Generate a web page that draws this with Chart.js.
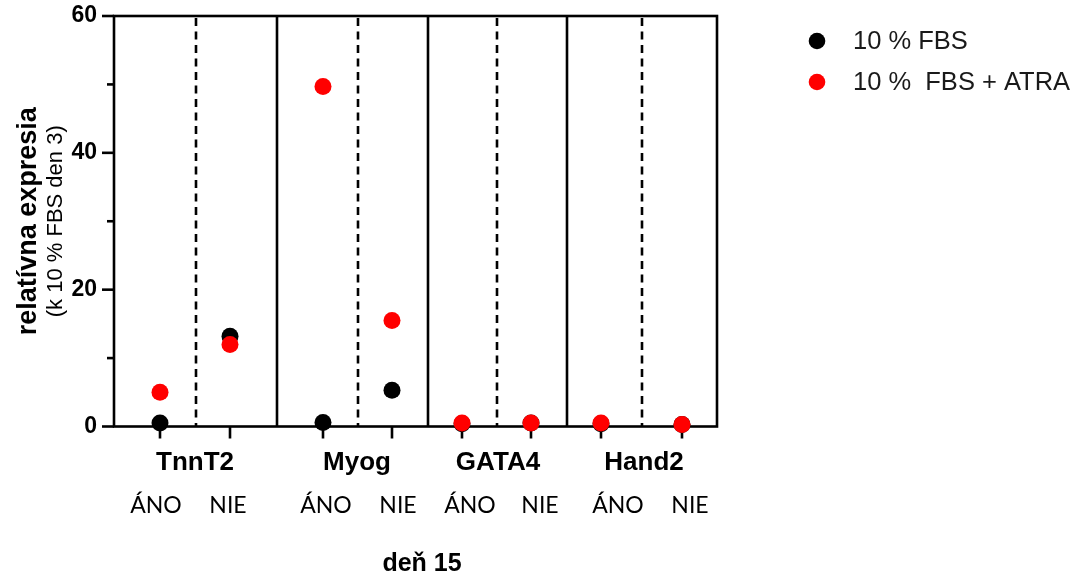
<!DOCTYPE html>
<html>
<head>
<meta charset="utf-8">
<script src="https://cdn.jsdelivr.net/npm/chart.js@4.4.1/dist/chart.umd.min.js"></script>
<style>
  html, body { margin: 0; padding: 0; background: #fff; }
  #wrap { width: 1081px; height: 584px; position: relative; }
</style>
</head>
<body>
<div id="wrap"><canvas id="c" width="1081" height="584"></canvas></div>
<script>
// ---- data ----
const genes = ['TnnT2', 'Myog', 'GATA4', 'Hand2'];
const groups = ['ÁNO', 'NIE', 'ÁNO', 'NIE', 'ÁNO', 'NIE', 'ÁNO', 'NIE'];
const fbs = [0.5, 13.2, 0.6, 5.3, 0.4, 0.5, 0.4, 0.3];
const fbsAtra = [5.0, 12.0, 49.7, 15.5, 0.5, 0.5, 0.5, 0.3];
const yTickValues = [0, 20, 40, 60];
const seriesNames = ['10 % FBS', '10 %  FBS + ATRA'];
const xTitle = 'deň 15';
const yTitle = 'relatívna expresia';
const ySubtitle = '(k 10 % FBS den 3)';

// ---- layout: positions on the linear x axis ----
const X_MAX = 60.3;
const pointX = [4.6, 11.6, 20.9, 27.8, 34.8, 41.7, 48.7, 56.8];
const groupLabelX = [4.2, 11.4, 21.2, 28.4, 35.6, 42.6, 50.4, 57.6];
const geneLabelX = [8.1, 24.3, 38.4, 53.0];
const panelDividerX = [16.3, 31.4, 45.3];
const groupDividerX = [8.2, 24.4, 38.3, 52.8];
const xTitleX = 30.8;

const SANS = "'Liberation Sans', Arial, sans-serif";
const LINE_W = 2.6;

const framePlugin = {
  id: 'frame',
  beforeDatasetsDraw(chart) {
    const { ctx, scales: { x, y } } = chart;
    const top = y.getPixelForValue(60), bot = y.getPixelForValue(0);
    const left = x.getPixelForValue(0), right = x.getPixelForValue(X_MAX);
    ctx.save();
    ctx.strokeStyle = '#000';
    ctx.lineWidth = LINE_W;
    ctx.lineCap = 'butt';
    // outer box
    ctx.strokeRect(left, top, right - left, bot - top);
    // y tick marks (major every 20, minor every 10)
    for (let v = 0; v <= 60; v += 10) {
      const py = y.getPixelForValue(v);
      const len = v % 20 === 0 ? 12 : 7;
      ctx.beginPath();
      ctx.moveTo(left - len, py);
      ctx.lineTo(left, py);
      ctx.stroke();
    }
    // x tick marks under each group
    pointX.forEach(v => {
      const px = x.getPixelForValue(v);
      ctx.beginPath();
      ctx.moveTo(px, bot);
      ctx.lineTo(px, bot + 12);
      ctx.stroke();
    });
    // solid panel dividers
    panelDividerX.forEach(v => {
      const px = x.getPixelForValue(v);
      ctx.beginPath();
      ctx.moveTo(px, top);
      ctx.lineTo(px, bot);
      ctx.stroke();
    });
    // dashed group dividers
    ctx.setLineDash([8, 5.5]);
    groupDividerX.forEach(v => {
      const px = x.getPixelForValue(v);
      ctx.beginPath();
      ctx.moveTo(px, top + 2);
      ctx.lineTo(px, bot);
      ctx.stroke();
    });
    ctx.restore();
  },
  afterDraw(chart) {
    const { ctx, scales: { x, y } } = chart;
    ctx.save();
    ctx.fillStyle = '#000';
    ctx.textAlign = 'center';
    ctx.textBaseline = 'middle';

    // gene names
    ctx.font = `bold 26px ${SANS}`;
    genes.forEach((g, i) => ctx.fillText(g, x.getPixelForValue(geneLabelX[i]), 463));

    // ÁNO / NIE
    ctx.font = `23px Lato, 'Open Sans', sans-serif`;
    groups.forEach((g, i) => ctx.fillText(g, x.getPixelForValue(groupLabelX[i]), 506));

    // x title
    ctx.font = `bold 25px ${SANS}`;
    ctx.fillText(xTitle, x.getPixelForValue(xTitleX), 564);

    // y titles
    const midY = (y.getPixelForValue(0) + y.getPixelForValue(60)) / 2;
    ctx.save();
    ctx.translate(29, midY);
    ctx.rotate(-Math.PI / 2);
    ctx.font = `bold 27px ${SANS}`;
    ctx.fillText(yTitle, 0, 0);
    ctx.restore();
    ctx.save();
    ctx.translate(56, midY);
    ctx.rotate(-Math.PI / 2);
    ctx.font = `22px ${SANS}`;
    ctx.fillText(ySubtitle, 0, 0);
    ctx.restore();

    // legend
    const colors = [chart.data.datasets[0].backgroundColor, chart.data.datasets[1].backgroundColor];
    const legendY = [41, 82];
    ctx.textAlign = 'left';
    ctx.font = `25.5px ${SANS}`;
    seriesNames.forEach((name, i) => {
      ctx.fillStyle = colors[i];
      ctx.beginPath();
      ctx.arc(817, legendY[i], 8.3, 0, Math.PI * 2);
      ctx.fill();
      ctx.fillStyle = '#1a1a1a';
      ctx.fillText(name, 853, legendY[i] + 1);
    });
    ctx.restore();
  }
};

const toPoints = vals => vals.map((v, i) => ({ x: pointX[i], y: v }));

new Chart(document.getElementById('c'), {
  type: 'scatter',
  data: {
    datasets: [
      {
        label: seriesNames[0],
        data: toPoints(fbs),
        backgroundColor: '#000000',
        borderColor: '#000000',
        borderWidth: 0,
        pointRadius: 8.5,
        pointHoverRadius: 8.5,
        clip: false,
        order: 2
      },
      {
        label: seriesNames[1],
        data: toPoints(fbsAtra),
        backgroundColor: '#ff0000',
        borderColor: '#ff0000',
        borderWidth: 0,
        pointRadius: 8.5,
        pointHoverRadius: 8.5,
        clip: false,
        order: 1
      }
    ]
  },
  options: {
    responsive: false,
    animation: false,
    devicePixelRatio: 1,
    layout: { padding: { left: 0, top: 16, right: 1081 - 717, bottom: 0 } },
    plugins: { legend: { display: false }, tooltip: { enabled: false } },
    scales: {
      x: {
        type: 'linear',
        min: 0,
        max: X_MAX,
        grid: { display: false, drawTicks: false, tickLength: 0 },
        border: { display: false },
        ticks: { display: false },
        afterFit(s) { s.height = 584 - 426.5; s.paddingLeft = 0; s.paddingRight = 0; }
      },
      y: {
        min: 0,
        max: 60,
        ticks: {
          stepSize: 10,
          padding: 17,
          color: '#000',
          font: { family: SANS, weight: 'bold', size: 23 },
          callback: v => (yTickValues.includes(v) ? String(v) : '')
        },
        grid: { display: false, drawTicks: false, tickLength: 0 },
        border: { display: false },
        afterFit(s) { s.width = 114; s.paddingTop = 0; s.paddingBottom = 0; }
      }
    }
  },
  plugins: [framePlugin]
});
</script>
</body>
</html>
